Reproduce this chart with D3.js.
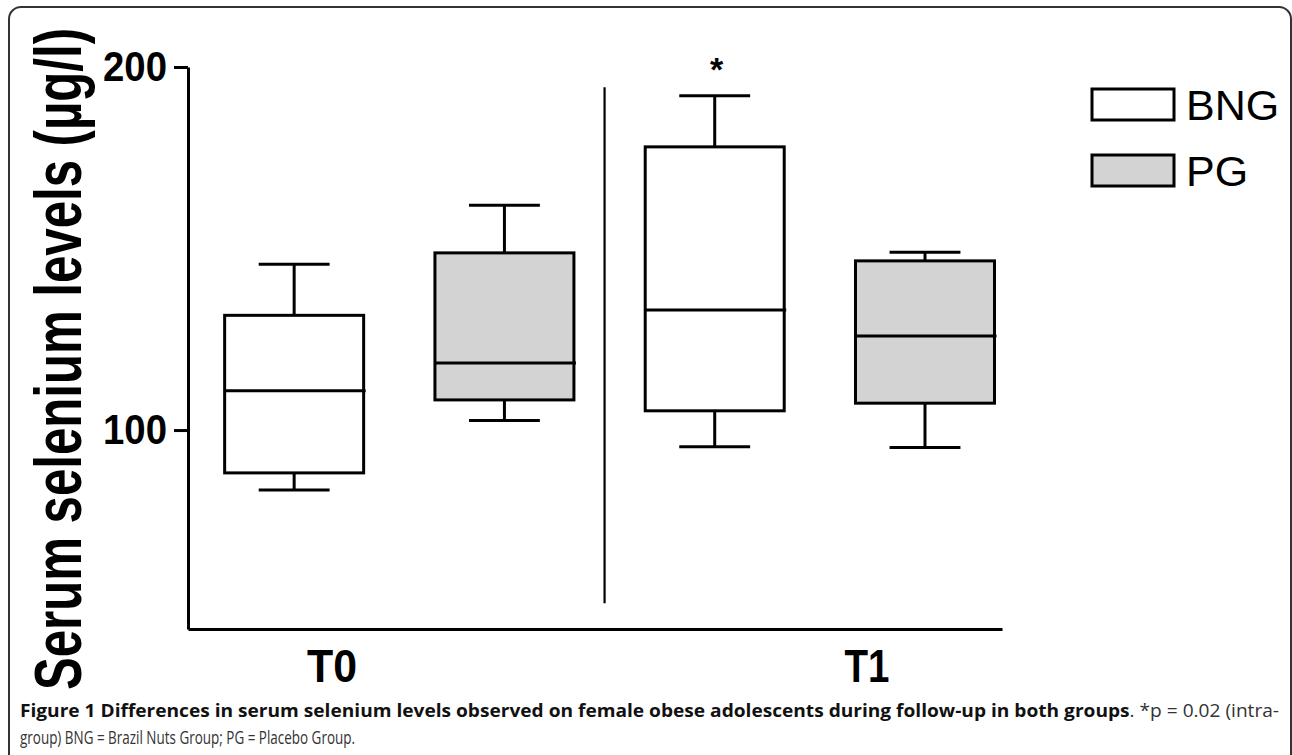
<!DOCTYPE html>
<html>
<head>
<meta charset="utf-8">
<script src="https://cdn.jsdelivr.net/npm/d3@7"></script>
<style>
  body { margin: 0; background: #fff; }
  svg { display: block; }
</style>
</head>
<body>
<div id="chart"></div>
<script>
// Box plot values (µg/l)
const categories = ["T0 BNG", "T0 PG", "T1 BNG", "T1 PG"];
const groups = ["BNG", "PG", "BNG", "PG"];
const whiskerMin = [83.5, 102.6, 95.4, 95.2];
const q1 = [88.2, 108.3, 105.3, 107.4];
const median = [110.8, 118.5, 133.1, 125.9];
const q3 = [131.6, 148.8, 178.0, 146.6];
const whiskerMax = [145.7, 161.9, 192.1, 149.0];
const marks = ["", "", "*", ""];
const timeLabels = ["T0", "T1"];
const yTicks = [100, 200];
const legendLabels = ["BNG", "PG"];

const W = 1292, H = 755;
const plot = { left: 188, right: 1002, top: 67, bottom: 629 };
const fillFor = { BNG: "#ffffff", PG: "#d3d3d3" };
const font = "Arial, 'Liberation Sans', sans-serif";

const svg = d3.select("#chart").append("svg")
  .attr("width", W)
  .attr("height", H);

// Rounded frame around the figure
svg.append("rect")
  .attr("x", 9).attr("y", 7)
  .attr("width", 1282).attr("height", 820)
  .attr("rx", 12)
  .attr("fill", "none")
  .attr("stroke", "#333")
  .attr("stroke-width", 2);

// Scales
const y = d3.scaleLinear().domain([45.2, 200]).range([plot.bottom, plot.top]);
const x = d3.scaleBand()
  .domain(categories)
  .range([plot.left, plot.right])
  .paddingInner(0.339)
  .paddingOuter(0.105)
  .align(0.83);
const bw = x.bandwidth();
const capW = bw * 0.51;

// Y axis
const yAxis = svg.append("g")
  .attr("transform", `translate(${plot.left},0)`)
  .call(d3.axisLeft(y).tickValues(yTicks).tickSize(14).tickSizeOuter(0).tickPadding(7));
yAxis.select("path.domain").attr("stroke", "#000").attr("stroke-width", 3);
yAxis.selectAll("g.tick line").attr("stroke", "#000").attr("stroke-width", 3);
yAxis.selectAll("g.tick text")
  .attr("fill", "#000")
  .style("font-family", font)
  .style("font-size", "42px")
  .style("font-weight", "bold")
  .attr("textLength", 64)
  .attr("lengthAdjust", "spacingAndGlyphs");

// X axis (plain line, no ticks)
const xAxis = svg.append("g")
  .attr("transform", `translate(0,${plot.bottom})`)
  .call(d3.axisBottom(d3.scaleLinear().range([plot.left, plot.right])).tickValues([]).tickSizeOuter(0));
xAxis.select("path.domain").attr("stroke", "#000").attr("stroke-width", 3);

// Divider between time points
const gapMid = (x("T0 PG") + bw + x("T1 BNG")) / 2 - 5;
svg.append("line")
  .attr("x1", gapMid).attr("x2", gapMid)
  .attr("y1", y(194.4)).attr("y2", y(52.3))
  .attr("stroke", "#000")
  .attr("stroke-width", 2.2);

// Boxes
const data = categories.map((c, i) => ({
  cat: c, group: groups[i], min: whiskerMin[i], q1: q1[i],
  med: median[i], q3: q3[i], max: whiskerMax[i], mark: marks[i]
}));

const box = svg.selectAll("g.box")
  .data(data)
  .enter()
  .append("g")
  .attr("class", "box")
  .attr("stroke", "#000")
  .attr("stroke-width", 3);

// whisker stems
box.append("line")
  .attr("x1", (d) => x(d.cat) + bw / 2).attr("x2", (d) => x(d.cat) + bw / 2)
  .attr("y1", (d) => y(d.max)).attr("y2", (d) => y(d.q3));
box.append("line")
  .attr("x1", (d) => x(d.cat) + bw / 2).attr("x2", (d) => x(d.cat) + bw / 2)
  .attr("y1", (d) => y(d.q1)).attr("y2", (d) => y(d.min));
// caps
box.append("line")
  .attr("x1", (d) => x(d.cat) + bw / 2 - capW / 2).attr("x2", (d) => x(d.cat) + bw / 2 + capW / 2)
  .attr("y1", (d) => y(d.max)).attr("y2", (d) => y(d.max));
box.append("line")
  .attr("x1", (d) => x(d.cat) + bw / 2 - capW / 2).attr("x2", (d) => x(d.cat) + bw / 2 + capW / 2)
  .attr("y1", (d) => y(d.min)).attr("y2", (d) => y(d.min));
// box body
box.append("rect")
  .attr("x", (d) => x(d.cat))
  .attr("y", (d) => y(d.q3))
  .attr("width", bw)
  .attr("height", (d) => y(d.q1) - y(d.q3))
  .attr("fill", (d) => fillFor[d.group]);
// median
box.append("line")
  .attr("x1", (d) => x(d.cat)).attr("x2", (d) => x(d.cat) + bw + 2)
  .attr("y1", (d) => y(d.med)).attr("y2", (d) => y(d.med));

// significance star
svg.selectAll("text.mark")
  .data(data.filter((d) => d.mark))
  .enter()
  .append("text")
  .attr("class", "mark")
  .attr("x", (d) => x(d.cat) + bw / 2 + 2)
  .attr("y", (d) => y(d.max) - 15)
  .attr("text-anchor", "middle")
  .style("font-family", font)
  .style("font-size", "34px")
  .style("font-weight", "bold")
  .text((d) => d.mark);

// Time point labels
const tx = d3.scalePoint().domain(timeLabels).range([332, 867]);
svg.selectAll("text.time")
  .data(timeLabels)
  .enter()
  .append("text")
  .attr("class", "time")
  .attr("x", (d) => tx(d))
  .attr("y", 682)
  .attr("text-anchor", "middle")
  .style("font-family", font)
  .style("font-size", "46px")
  .style("font-weight", "bold")
  .attr("textLength", (d) => (d === "T0" ? 50 : 45))
  .attr("lengthAdjust", "spacingAndGlyphs")
  .text((d) => d);

// Y axis title
svg.append("text")
  .attr("transform", "translate(81,359) rotate(-90) scale(1,1.36)")
  .attr("text-anchor", "middle")
  .style("font-family", font)
  .style("font-size", "49px")
  .style("font-weight", "bold")
  .attr("textLength", 662)
  .attr("lengthAdjust", "spacingAndGlyphs")
  .text("Serum selenium levels (µg/l)");

// Legend
const legend = svg.selectAll("g.legend")
  .data(legendLabels)
  .enter()
  .append("g")
  .attr("class", "legend")
  .attr("transform", (d, i) => `translate(1092,${89 + i * 66})`);
legend.append("rect")
  .attr("width", 82).attr("height", 31)
  .attr("fill", (d) => fillFor[d])
  .attr("stroke", "#000")
  .attr("stroke-width", 3);
legend.append("text")
  .attr("x", 94)
  .attr("y", 31)
  .style("font-family", font)
  .style("font-size", "43px")
  .text((d) => d);

// Caption
const cap1 = svg.append("text")
  .attr("x", 20).attr("y", 717)
  .style("font-family", "'Open Sans', sans-serif")
  .style("font-size", "18px")
  .attr("textLength", 1259)
  .attr("lengthAdjust", "spacingAndGlyphs");
cap1.append("tspan")
  .attr("font-weight", "bold")
  .attr("fill", "#111")
  .text("Figure 1 Differences in serum selenium levels observed on female obese adolescents during follow-up in both groups");
cap1.append("tspan")
  .attr("fill", "#333")
  .text(". *p = 0.02 (intra-");

svg.append("text")
  .attr("x", 20).attr("y", 744)
  .style("font-family", "'Open Sans', sans-serif")
  .style("font-size", "18px")
  .attr("fill", "#333")
  .attr("textLength", 335)
  .attr("lengthAdjust", "spacingAndGlyphs")
  .text("group) BNG = Brazil Nuts Group; PG = Placebo Group.");
</script>
</body>
</html>
